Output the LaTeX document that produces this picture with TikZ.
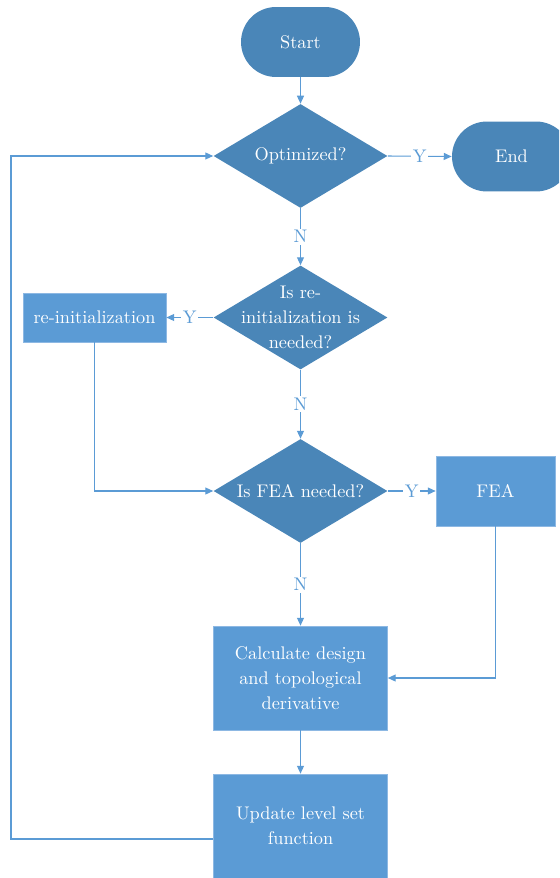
\documentclass[tikz,border=0pt]{standalone}
\usetikzlibrary{shapes.geometric,arrows.meta}
\definecolor{darkblue}{HTML}{4A86B8}
\definecolor{boxblue}{HTML}{5B9BD5}
\definecolor{edgeblue}{HTML}{8DB8E3}
\begin{document}
\begin{tikzpicture}[x=0.02cm,y=-0.02cm,
    txt/.style={text=white, font=\fontsize{10.4}{14.2}\selectfont, align=center},
    term/.style={txt, fill=darkblue, rectangle, rounded corners=0.7cm, minimum width=2.38cm, minimum height=1.4cm},
    decision/.style={fill=darkblue, diamond, inner sep=0pt, minimum width=3.48cm, minimum height=2.08cm},
    process/.style={txt, fill=boxblue, draw=edgeblue, line width=0.4pt, rectangle},
    conn/.style={draw=boxblue, line width=0.6pt, -{Triangle[length=4.5pt,width=4pt]}},
    lbl/.style={fill=white, text=boxblue, inner sep=1pt, font=\fontsize{10.4}{14.2}\selectfont}]
    \useasboundingbox (0,0) rectangle (559,878);
    \clip (0,0) rectangle (559,878);

    \node[term] (start) at (300.5,42) {Start};
    \node[term] (end) at (511.5,156.5) {End};

    \node[decision] (opt) at (300.5,156) {};
    \node[txt] (optT) at (opt) {Optimized?};

    \node[decision] (reinitQ) at (300.5,317.5) {};
    \node[txt] (reinitQT) at (reinitQ) {Is re-\\initialization is\\needed?};
    \node[process, minimum width=2.86cm, minimum height=0.98cm] (reinit) at (94.5,317.5) {re-initialization};

    \node[decision] (feaQ) at (300.5,491) {};
    \node[txt] (feaQT) at (feaQ) {Is FEA needed?};
    \node[process, minimum width=2.38cm, minimum height=1.4cm] (fea) at (495.5,491) {FEA};

    \node[process, minimum width=3.48cm, minimum height=2.08cm] (calc) at (300.5,678) {Calculate design\\and topological\\derivative};
    \node[process, minimum width=3.48cm, minimum height=2.08cm] (update) at (300.5,826) {Update level set\\function};
    \coordinate (loop) at (11,839);

    \draw[conn] (start) -- (opt);
    \draw[conn] (opt.east) -- node[lbl] (y1) {Y} (end.west);
    \draw[conn] (opt.south) -- node[lbl] (n1) {N} (reinitQ.north);
    \draw[conn] (reinitQ.west) -- node[lbl] (y2) {Y} (reinit.east);
    \draw[conn] (reinitQ.south) -- node[lbl] (n2) {N} (feaQ.north);
    \draw[conn] (reinit.south) |- (feaQ.west);
    \draw[conn] (feaQ.east) -- node[lbl] (y3) {Y} (fea.west);
    \draw[conn] (feaQ.south) -- node[lbl] (n3) {N} (calc.north);
    \draw[conn] (fea.south) |- (calc.east);
    \draw[conn] (calc.south) -- (update.north);
    \draw[conn] (update.west |- loop) -- (loop) |- (opt.west);
\end{tikzpicture}
\end{document}
